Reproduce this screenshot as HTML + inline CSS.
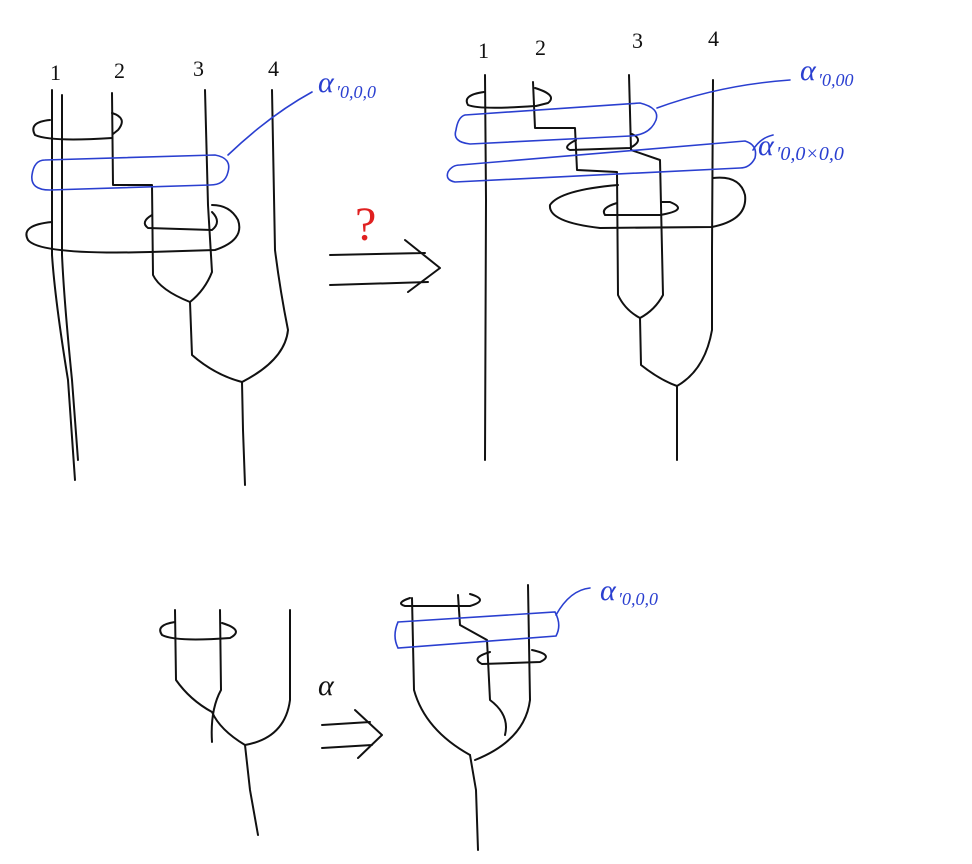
<!DOCTYPE html>
<html><head><meta charset="utf-8"><style>
html,body{margin:0;padding:0;background:#fff;}
svg{display:block;}
text{font-family:"Liberation Serif",serif;}
</style></head><body>
<svg width="972" height="864" viewBox="0 0 972 864" xmlns="http://www.w3.org/2000/svg">
<g fill="none" stroke="#111" stroke-width="2" stroke-linecap="round" stroke-linejoin="round">
<!-- TOP LEFT -->
<path d="M52 90 L52 255 Q55 300 68 380 L75 480"/>
<path d="M62 95 L62 255 Q64 300 72 380 L78 460"/>
<path d="M112 93 L113 185 L152 185 L153 275 Q160 290 190 302"/>
<path d="M205 90 L208 205 L212 272 Q205 290 190 302"/>
<path d="M190 302 L192 355 Q215 375 242 382"/>
<path d="M272 90 L275 250 Q280 290 288 330 Q285 360 242 382"/>
<path d="M242 382 L243 430 L245 485"/>
<path d="M50 120 Q28 122 35 135 Q50 142 112 138"/>
<path d="M112 113 Q128 118 118 130 L113 134"/>
<path d="M52 222 Q20 225 28 240 Q40 255 150 252 L215 250 Q245 240 238 220 Q230 205 212 205"/>
<path d="M152 215 Q140 222 148 228 L212 230 Q222 222 212 212"/>
<!-- TOP RIGHT -->
<path d="M485 75 L486 200 L485 460"/>
<path d="M533 82 L535 128 L575 128 L577 170 L617 172 L618 295 Q625 310 640 318"/>
<path d="M629 75 L631 150 L660 160 L663 295 Q655 310 640 318"/>
<path d="M640 318 L641 365 Q660 380 677 386"/>
<path d="M713 80 L712 250 L712 330 Q705 370 677 386"/>
<path d="M677 386 L677 460"/>
<path d="M484 92 Q462 95 468 105 Q480 110 535 106"/>
<path d="M535 88 Q558 95 548 103 L536 106"/>
<path d="M576 140 Q562 147 570 150 L630 148 Q645 140 632 134"/>
<path d="M618 185 Q560 190 550 205 Q548 222 600 228 L712 227 Q748 220 745 195 Q740 175 713 178"/>
<path d="M617 203 Q600 208 605 215 L660 215 Q690 210 670 202 L662 202"/>
<!-- BOTTOM LEFT -->
<path d="M175 610 L176 680 Q190 700 212 712 Q220 730 245 745"/>
<path d="M220 610 L221 690 Q210 710 212 742"/>
<path d="M290 610 L290 700 Q285 738 245 745"/>
<path d="M245 745 L250 790 L258 835"/>
<path d="M175 622 Q155 625 162 635 Q175 642 230 638 Q245 630 222 623"/>
<!-- BOTTOM RIGHT -->
<path d="M412 598 L414 690 Q425 730 470 755"/>
<path d="M458 595 L460 625 L487 640 L490 700 Q510 715 505 735"/>
<path d="M528 585 L530 700 Q525 740 475 760"/>
<path d="M470 755 L476 790 L478 850"/>
<path d="M410 598 Q395 603 405 606 L470 606 Q490 600 470 594"/>
<path d="M490 652 Q470 658 482 664 L540 662 Q555 655 532 650"/>
<!-- arrows -->
<path d="M330 255 L425 253 M330 285 L428 282 M405 240 L440 268 L408 292"/>
<path d="M322 725 L370 722 M322 748 L372 745 M355 710 L382 735 L358 758"/>
</g>
<g fill="none" stroke="#2a3fd0" stroke-width="1.6" stroke-linecap="round">
<path d="M45 160 L215 155 Q232 158 228 172 Q225 185 210 185 L50 190 Q30 190 32 175 Q34 160 45 160"/>
<path d="M228 155 Q270 115 312 92"/>
<path d="M465 115 L640 103 Q660 108 656 120 Q650 135 630 136 L470 144 Q452 142 456 130 Q458 117 465 115"/>
<path d="M657 108 Q720 85 790 80"/>
<path d="M460 165 L745 141 Q758 145 755 158 Q750 168 740 168 L455 182 Q445 180 448 172 Q452 165 460 165"/>
<path d="M753 150 Q760 138 773 135"/>
<path d="M398 622 L555 612 Q562 625 556 636 L398 648 Q392 636 398 622"/>
<path d="M556 615 Q570 590 590 588"/>
</g>
<g fill="#2a3fd0" font-style="italic">
<text x="318" y="92" font-size="30">α</text><text x="336" y="98" font-size="18">′0,0,0</text>
<text x="800" y="80" font-size="30">α</text><text x="818" y="86" font-size="18">′0,00</text>
<text x="758" y="155" font-size="30">α</text><text x="776" y="160" font-size="20">′0,0×0,0</text>
<text x="600" y="600" font-size="30">α</text><text x="618" y="605" font-size="18">′0,0,0</text>
</g>
<g fill="#111" font-size="22">
<text x="50" y="80">1</text><text x="114" y="78">2</text><text x="193" y="76">3</text><text x="268" y="76">4</text>
<text x="478" y="58">1</text><text x="535" y="55">2</text><text x="632" y="48">3</text><text x="708" y="46">4</text>
<text x="318" y="695" font-size="30" font-style="italic">α</text>
</g>
<text x="355" y="240" fill="#e02020" font-size="48">?</text>
</svg>
</body></html>
